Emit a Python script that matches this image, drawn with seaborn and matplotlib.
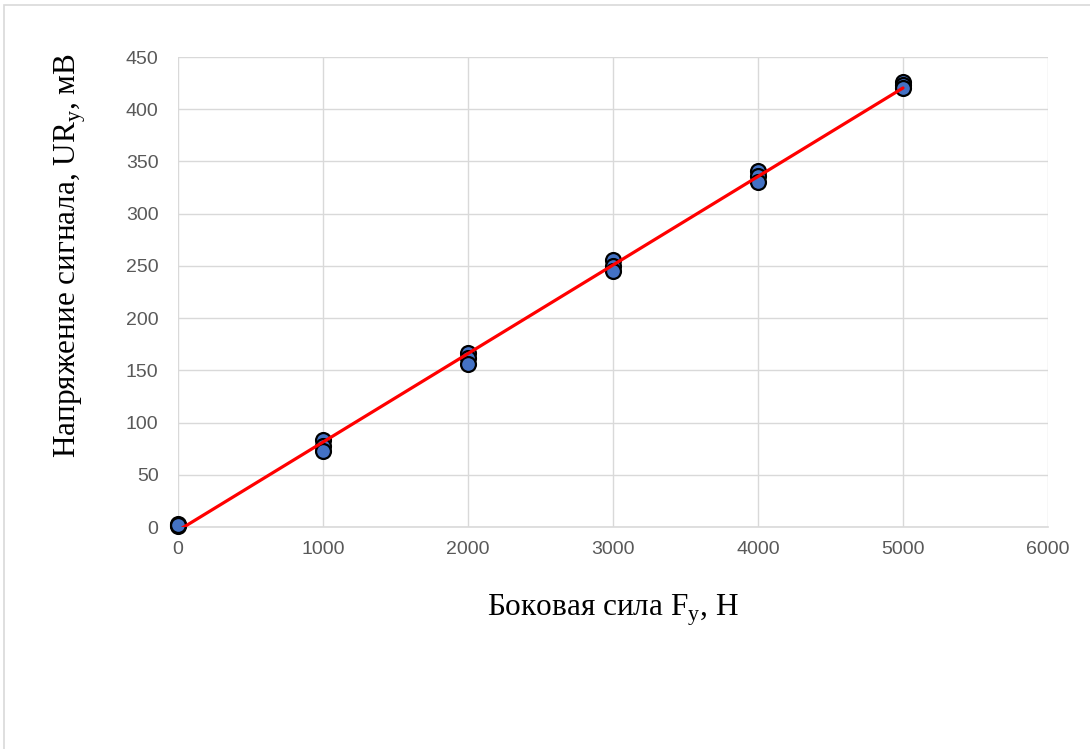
import matplotlib
matplotlib.use("Agg")
import matplotlib.pyplot as plt
from matplotlib.patches import Rectangle
import seaborn as sns
import pandas as pd

force = [0, 0, 0, 1000, 1000, 1000, 2000, 2000, 2000,
         3000, 3000, 3000, 4000, 4000, 4000, 5000, 5000, 5000]
voltage = [3, 1, 2, 83, 78, 73, 167, 162, 156,
           256, 250, 245, 341, 336, 330, 426, 423, 420]
x_ticks = [0, 1000, 2000, 3000, 4000, 5000, 6000]
y_ticks = [0, 50, 100, 150, 200, 250, 300, 350, 400, 450]

df = pd.DataFrame({"F": force, "U": voltage})

sns.set_theme(style="white")
plt.rcParams["font.family"] = ["Liberation Sans Narrow", "Liberation Sans", "DejaVu Sans"]

fig = plt.figure(figsize=(10.9, 7.49), dpi=100)
ax = fig.add_axes([178/1090, 1-527/749, (1048-178)/1090, (527-57)/749])

sns.scatterplot(data=df, x="F", y="U", ax=ax, s=115, color="#4472C4",
                edgecolor="black", linewidth=1.6, zorder=3, clip_on=False)
sns.regplot(data=df, x="F", y="U", ax=ax, scatter=False, ci=None,
            line_kws={"color": "#FF0000", "lw": 2.3, "zorder": 4})

ax.set_xlim(0, 6000)
ax.set_ylim(0, 450)
ax.set_xticks(x_ticks)
ax.set_yticks(y_ticks)
ax.grid(True, color="#d9d9d9", lw=1.0)
ax.set_axisbelow(True)
for side in ["top", "right", "left"]:
    ax.spines[side].set_visible(False)
ax.spines["bottom"].set_color("#d9d9d9")
ax.spines["bottom"].set_linewidth(1.2)
ax.tick_params(axis="both", length=0, labelsize=14, labelcolor="#595959")
ax.tick_params(axis="x", pad=10)
ax.tick_params(axis="y", pad=14)

serif = ["Liberation Serif", "DejaVu Serif"]
ax.set_xlabel(r"Боковая сила F$_\mathregular{y}$, Н", fontsize=22.5, family=serif,
              color="black", labelpad=25)
ax.set_ylabel(r"Напряжение сигнала, UR$_\mathregular{y}$, мВ", fontsize=22.5,
              family=serif, color="black")
ax.yaxis.set_label_coords(-0.103, 0.577)

fig.patches.append(Rectangle((4/1090, -0.5), 2, 0.5 + 1 - 5/749,
                             transform=fig.transFigure, facecolor="none",
                             edgecolor="#d9d9d9", lw=1.2))

fig.savefig("out.png", dpi=100)
